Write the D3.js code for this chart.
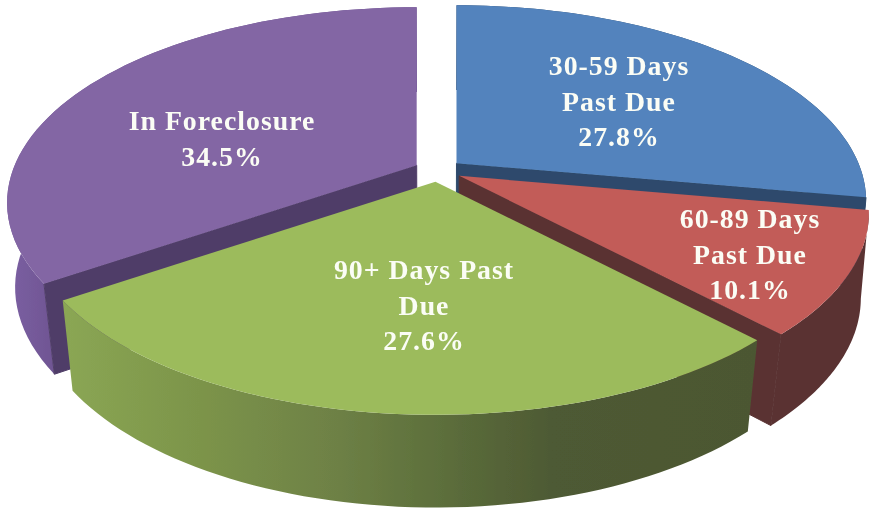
<!DOCTYPE html>
<html><head><meta charset="utf-8">
<script src="https://cdn.jsdelivr.net/npm/d3@7"></script>
<style>html,body{margin:0;padding:0;background:#fff}svg{display:block}</style>
</head><body><svg id="c" width="878" height="514"></svg>
<script>
const categories = ["30-59 Days Past Due","60-89 Days Past Due","90+ Days Past Due","In Foreclosure"];
const values = [27.8,10.1,27.6,34.5];
const labelLines = [["30-59 Days","Past Due","27.8%"],["60-89 Days","Past Due","10.1%"],["90+ Days Past","Due","27.6%"],["In Foreclosure","34.5%"]];
const labelCentres = [[619,75],[750,228],[424,279],[222,130]];
const topColors = ["#5283bd","#c25b58","#9cbb5c","#8366a4"];
const wallColors = ["#2e4a6c","#5a3333","url(#gw)","url(#pw)"];
const edgeColors = ["#2e4a6c","#5a3333","none","#503e68"];
const greenStops = [[0,"#8ba754"],[.2,"#7c944a"],[.4,"#6d8045"],[.55,"#5c6e3b"],[.7,"#4e5a34"],[1,"#4c5732"]];

const cx=438,cy=170.5,B=402,A=188.3,p=0.192,explode=0.06;
const svg=d3.select("#c");
const defs=svg.append("defs");
defs.append("filter").attr("id","soft").append("feGaussianBlur").attr("stdDeviation",0.7);
defs.append("filter").attr("id","softT").append("feGaussianBlur").attr("stdDeviation",0.45);
const gw=defs.append("linearGradient").attr("id","gw").attr("gradientUnits","userSpaceOnUse").attr("x1",60).attr("x2",760).attr("y1",0).attr("y2",0);
greenStops.forEach(s=>gw.append("stop").attr("offset",s[0]).attr("stop-color",s[1]));
const pw=defs.append("linearGradient").attr("id","pw").attr("gradientUnits","userSpaceOnUse").attr("x1",5).attr("x2",60).attr("y1",0).attr("y2",0);
pw.append("stop").attr("offset",0).attr("stop-color","#7c60a3");
pw.append("stop").attr("offset",1).attr("stop-color","#6e5491");

const pie=d3.pie().sort(null).value(d=>d).startAngle(0).endAngle(2*Math.PI);
const arcs=pie(values);
const line=d3.line().x(d=>d[0]).y(d=>d[1]);
function proj(a,r){const u=r*Math.sin(a),v=-r*Math.cos(a),s=1/(1-p*v);return [B*u*s,A*v*s,s,v];}
function apex(d){const m=(d.startAngle+d.endAngle)/2;return [cx+B*explode*Math.sin(m),cy-A*explode*Math.cos(m)];}
function pt(d,a,r){const o=apex(d),q=proj(a,r);return [o[0]+q[0],o[1]+q[1],q[2],q[3]];}
function low(P){const k=0.985-0.02*Math.max(0,P[3]);return [cx+(P[0]-cx)*k,P[1]+68+20*P[2]];}
function arcPts(d){return d3.range(0,61).map(i=>pt(d,d.startAngle+(d.endAngle-d.startAngle)*i/60,1));}

const g=svg.append("g").attr("filter","url(#soft)");
[0,3,1,2].forEach(i=>{
  const d=arcs[i],o=apex(d),P=arcPts(d),O=[o[0],o[1],1,0];
  g.append("path").attr("d",line(P.concat(P.map(low).reverse()))+"Z").attr("fill",wallColors[i]);
  if(edgeColors[i]!=="none"){
    const e=i===3?P[0]:P[P.length-1];
    g.append("path").attr("d",line([O,e,low(e),low(O)])+"Z").attr("fill",edgeColors[i]).attr("stroke",edgeColors[i]).attr("stroke-width",1);
  }
  g.append("path").attr("d",line([O].concat(P))+"Z").attr("fill",topColors[i]);
});
const t=svg.append("g").attr("filter","url(#softT)").attr("font-family","'Liberation Serif',serif").attr("font-weight","bold").attr("font-size",27.8).attr("letter-spacing",1).attr("fill","#fbfdf5").attr("text-anchor","middle");
labelLines.forEach((L,i)=>L.forEach((s,j)=>t.append("text").attr("x",labelCentres[i][0]).attr("y",labelCentres[i][1]+j*35.5).text(s)));
</script></body></html>
